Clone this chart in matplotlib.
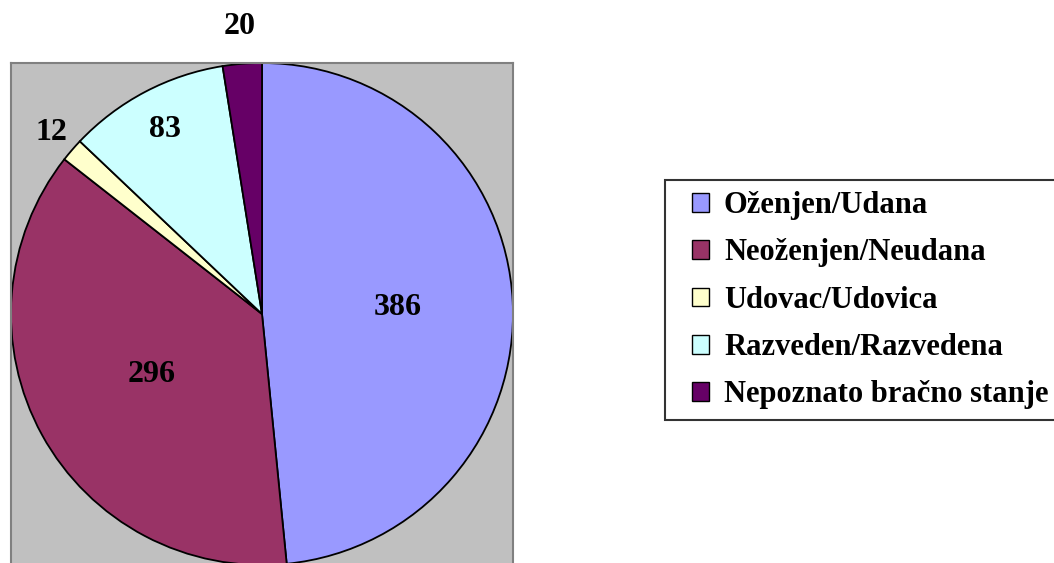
import numpy as np
import matplotlib
matplotlib.use('Agg')
import matplotlib.pyplot as plt
from matplotlib.legend_handler import HandlerPatch
from matplotlib.patches import Wedge

# marital status data
names = ['Oženjen/Udana', 'Neoženjen/Neudana', 'Udovac/Udovica',
         'Razveden/Razvedena', 'Nepoznato bračno stanje']
counts = [386, 296, 12, 83, 20]
colors = ['#9999FF', '#993366', '#FFFFCC', '#CCFFFF', '#660066']
label_dist = [0.54, 0.5, 1.11, 0.83, 1.15]

plt.rcParams['font.family'] = ['Liberation Serif', 'DejaVu Serif']
plt.rcParams['font.weight'] = 'bold'

W, H = 1054, 563
fig = plt.figure(figsize=(W / 100, H / 100), dpi=100)

# plot area (gray square), extends slightly past bottom edge
ax = fig.add_axes([11 / W, 1 - 565 / H, 502 / W, 502 / H])
wedges, _ = ax.pie(counts, colors=colors, startangle=90, counterclock=False,
                   radius=1.0,
                   wedgeprops=dict(edgecolor='black', linewidth=1.3))
ax.set_frame_on(True)
ax.set_facecolor('#C0C0C0')
for s in ax.spines.values():
    s.set_color('#808080')
    s.set_linewidth(1.5)
ax.set_xlim(-1, 1)
ax.set_ylim(-1, 1)
ax.set_xticks([])
ax.set_yticks([])

for w, n, d in zip(wedges, counts, label_dist):
    mid = np.deg2rad((w.theta1 + w.theta2) / 2)
    ax.text(d * np.cos(mid), d * np.sin(mid), str(n), ha='center', va='center',
            fontsize=23, fontweight='bold', clip_on=False)

leg = fig.legend(wedges, names, loc='upper left',
                 bbox_to_anchor=(665 / W, 1 - 180 / H),
                 prop=dict(family='Liberation Serif', weight='bold', size=22),
                 frameon=True, fancybox=False, edgecolor='black',
                 handlelength=1.08, handleheight=0.56, handletextpad=0.49,
                 labelspacing=0.6, borderpad=0.36, borderaxespad=0,
                 handler_map={Wedge: HandlerPatch(xpad=0.52)})
leg.get_frame().set_linewidth(1.5)
for h in leg.legend_handles:
    h.set_linewidth(1.0)

fig.savefig('out.png', dpi=100)
